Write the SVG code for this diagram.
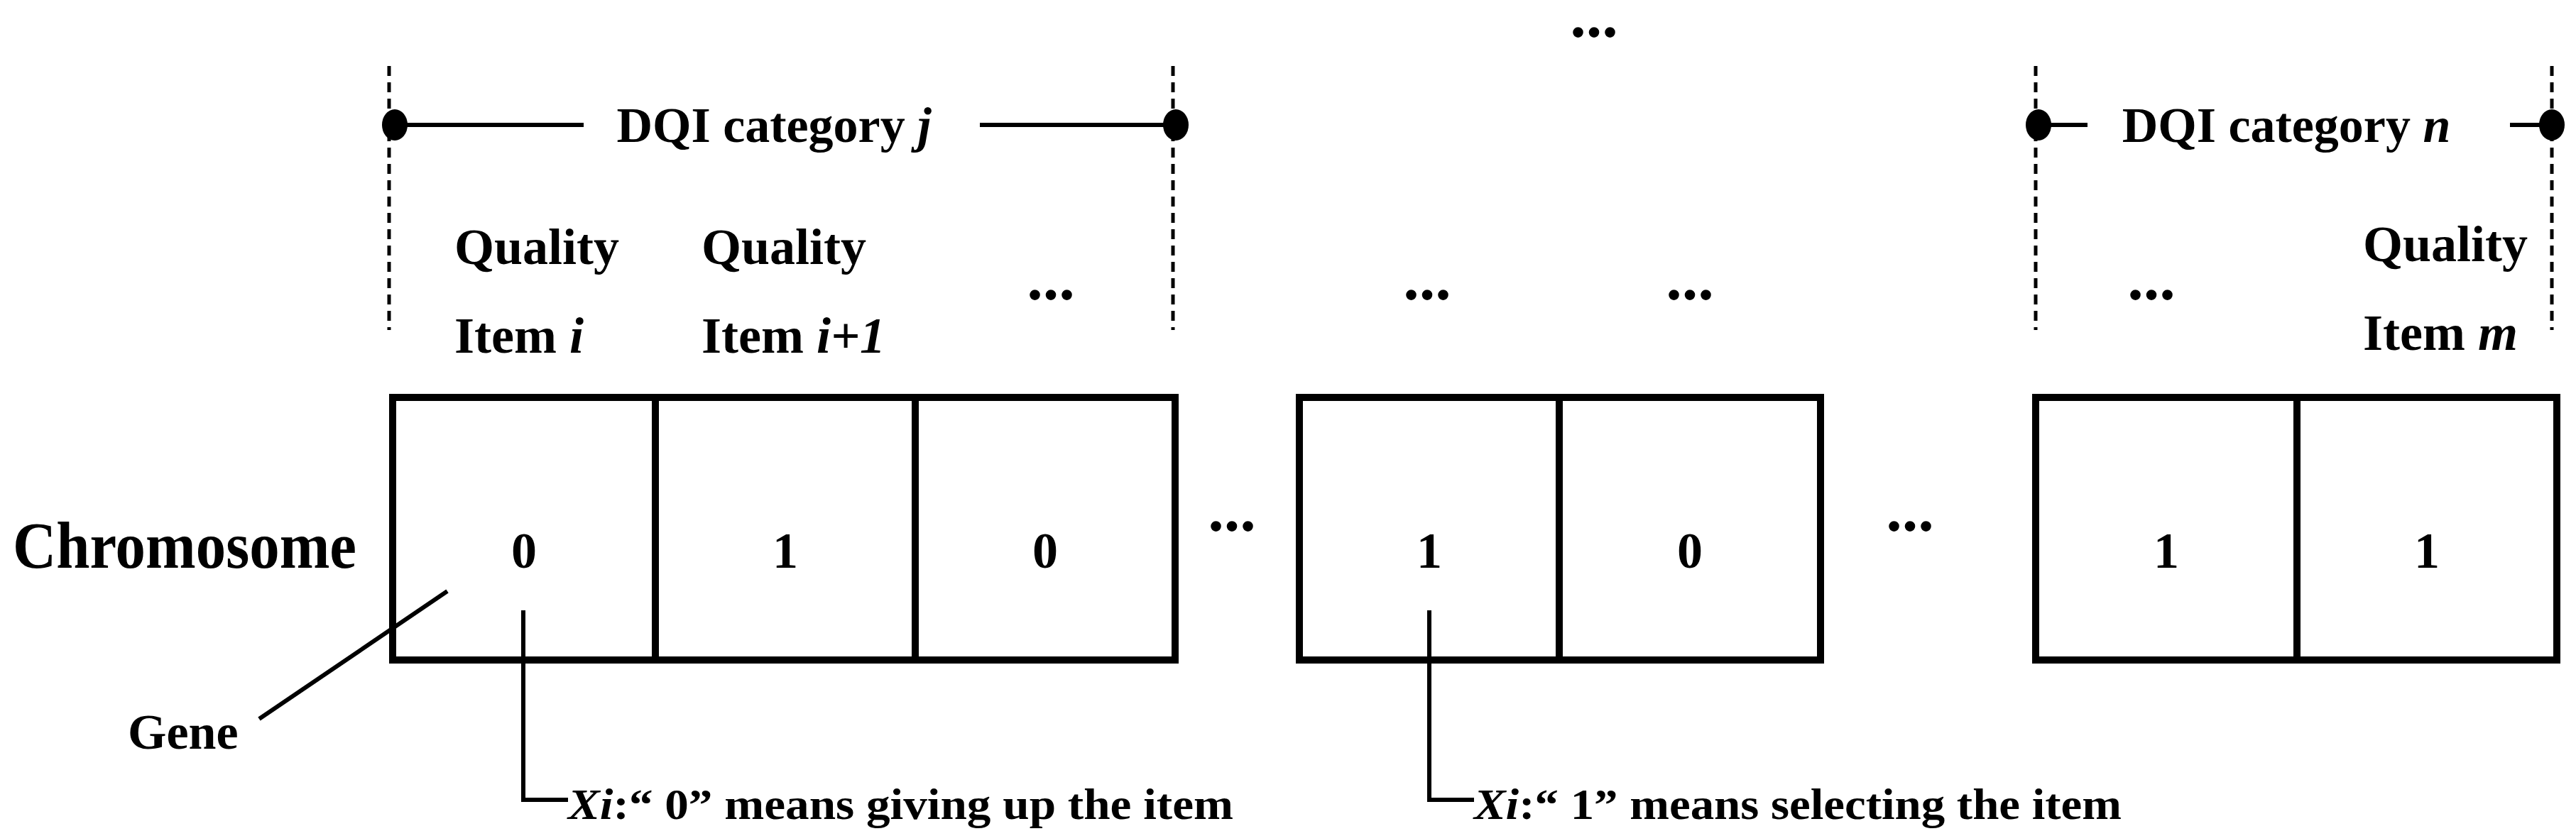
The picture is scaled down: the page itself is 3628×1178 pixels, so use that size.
<svg xmlns="http://www.w3.org/2000/svg" width="3628" height="1178" viewBox="0 0 3628 1178">
<style>
text{font-family:"Liberation Serif","Times New Roman",serif;font-weight:bold;fill:#000}
.box{fill:#fff;stroke:#000;stroke-width:10}
.div{stroke:#000;stroke-width:10}
.dash{stroke:#000;stroke-width:5;stroke-dasharray:14,9}
.ln{stroke:#000;stroke-width:6;fill:none}
.q{font-size:72px}
.d{font-size:72px;text-anchor:middle}
.dots{font-size:90px;text-anchor:middle}
</style>
<rect width="3628" height="1178" fill="#fff"/>
<g id="chromosome-label"><text x="18" y="800" font-size="94" textLength="484" lengthAdjust="spacingAndGlyphs">Chromosome</text></g>
<g id="category-j">
<line class="dash" x1="548" y1="93" x2="548" y2="465"/>
<line class="dash" x1="1652" y1="93" x2="1652" y2="465"/>
<line class="ln" x1="560" y1="176" x2="822" y2="176"/>
<line class="ln" x1="1380" y1="176" x2="1645" y2="176"/>
<ellipse cx="556" cy="176" rx="18" ry="22"/>
<ellipse cx="1656" cy="176" rx="18" ry="22"/>
<text x="1090" y="200" font-size="70" text-anchor="middle">DQI category <tspan font-style="italic">j</tspan></text>
</g>
<g id="category-n">
<line class="dash" x1="2867" y1="93" x2="2867" y2="465"/>
<line class="dash" x1="3594" y1="93" x2="3594" y2="465"/>
<line class="ln" x1="2870" y1="176" x2="2940" y2="176"/>
<line class="ln" x1="3535" y1="176" x2="3590" y2="176"/>
<ellipse cx="2871" cy="176" rx="18" ry="22"/>
<ellipse cx="3594" cy="176" rx="18" ry="22"/>
<text x="3220" y="200" font-size="70" text-anchor="middle">DQI category <tspan font-style="italic">n</tspan></text>
</g>
<g id="item-labels">
<text class="q" x="640" y="372">Quality</text>
<text class="q" x="640" y="497">Item <tspan font-style="italic">i</tspan></text>
<text class="q" x="988" y="372">Quality</text>
<text class="q" x="988" y="497">Item <tspan font-style="italic">i+1</tspan></text>
<text class="q" x="3328" y="368">Quality</text>
<text class="q" x="3328" y="493">Item <tspan font-style="italic">m</tspan></text>
<text class="dots" x="1480" y="422">...</text>
<text class="dots" x="2010" y="422">...</text>
<text class="dots" x="2380" y="422">...</text>
<text class="dots" x="3030" y="422">...</text>
<text class="dots" x="2245" y="52">...</text>
<text class="dots" x="1735" y="748">...</text>
<text class="dots" x="2690" y="748">...</text>
</g>
<g id="segment-1">
<rect class="box" x="553" y="560" width="1102" height="370"/>
<line class="div" x1="923" y1="560" x2="923" y2="930"/>
<line class="div" x1="1289" y1="560" x2="1289" y2="930"/>
<text class="d" x="738" y="800">0</text>
<text class="d" x="1106" y="800">1</text>
<text class="d" x="1472" y="800">0</text>
</g>
<g id="segment-2">
<rect class="box" x="1830" y="560" width="734" height="370"/>
<line class="div" x1="2196" y1="560" x2="2196" y2="930"/>
<text class="d" x="2013" y="800">1</text>
<text class="d" x="2380" y="800">0</text>
</g>
<g id="segment-3">
<rect class="box" x="2867" y="560" width="734" height="370"/>
<line class="div" x1="3235" y1="560" x2="3235" y2="930"/>
<text class="d" x="3051" y="800">1</text>
<text class="d" x="3418" y="800">1</text>
</g>
<g id="connectors">
<line class="ln" x1="630" y1="833" x2="365" y2="1013"/>
<polyline class="ln" points="737,860 737,1127 800,1127"/>
<polyline class="ln" points="2013,860 2013,1127 2076,1127"/>
</g>
<g id="annotations">
<text x="180" y="1055" font-size="70">Gene</text>
<text x="800" y="1154" font-size="62" textLength="937" lengthAdjust="spacingAndGlyphs"><tspan font-style="italic">Xi</tspan>:“  0”  means giving up the item</text>
<text x="2076" y="1154" font-size="62" textLength="912" lengthAdjust="spacingAndGlyphs"><tspan font-style="italic">Xi</tspan>:“  1”  means selecting the item</text>
</g>
</svg>
